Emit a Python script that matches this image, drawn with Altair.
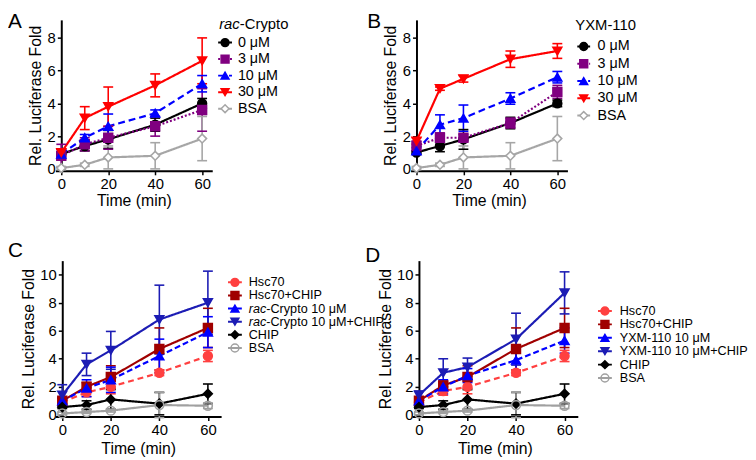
import altair as alt
import pandas as pd

FONT = "Arial"
TIMES = [0, 10, 20, 40, 60]
X_TICKS = [0, 20, 40, 60]

# ---------------- Panel A : rac-Crypto ----------------
A_SERIES = ["0 μM", "3 μM", "10 μM", "30 μM", "BSA"]
A_0 = [0.9, 1.4, 1.8, 2.7, 4.0]
A_0_ERR = [0.15, 0.3, 0.55, 0.4, 0.3]
A_3 = [0.8, 1.5, 1.9, 2.6, 3.6]
A_3_ERR = [0.7, 0.4, 0.7, 0.6, 1.3]
A_10 = [0.9, 1.9, 2.6, 3.4, 5.2]
A_10_ERR = [0.3, 0.2, 0.75, 0.2, 0.5]
A_30 = [1.0, 3.1, 3.8, 5.1, 6.6]
A_30_ERR = [0.2, 0.7, 1.2, 0.7, 1.4]
A_BSA = [0.05, 0.25, 0.7, 0.8, 1.85]
A_BSA_ERR = [0.1, 0.1, 0.7, 0.8, 1.35]

# ---------------- Panel B : YXM-110 ----------------
B_SERIES = ["0 μM", "3 μM", "10 μM", "30 μM", "BSA"]
B_0 = [1.0, 1.4, 1.8, 2.8, 4.0]
B_0_ERR = [0.1, 0.35, 0.6, 0.35, 0.2]
B_3 = [1.4, 1.9, 1.9, 2.8, 4.7]
B_3_ERR = [0.3, 0.3, 0.2, 0.3, 0.4]
B_10 = [1.1, 2.7, 3.1, 4.3, 5.6]
B_10_ERR = [0.2, 0.6, 0.8, 0.35, 0.35]
B_30 = [1.7, 4.9, 5.5, 6.7, 7.2]
B_30_ERR = [0.2, 0.1, 0.2, 0.5, 0.45]
B_BSA = [0.05, 0.25, 0.7, 0.8, 1.85]
B_BSA_ERR = [0.1, 0.1, 0.7, 0.8, 1.35]

# ---------------- Panel C : rac-Crypto + CHIP ----------------
C_SERIES = ["Hsc70", "Hsc70+CHIP", "rac-Crypto 10 μM", "rac-Crypto 10 μM+CHIP", "CHIP", "BSA"]
C_PRE = ["", "", "rac", "rac", "", ""]
C_REST = ["Hsc70", "Hsc70+CHIP", "-Crypto 10 μM", "-Crypto 10 μM+CHIP", "CHIP", "BSA"]
C_H = [0.9, 1.6, 2.0, 3.0, 4.2]
C_H_ERR = [0.1, 0.3, 0.5, 0.2, 0.4]
C_HC = [1.0, 2.0, 2.7, 4.7, 6.2]
C_HC_ERR = [0.2, 0.3, 0.8, 1.5, 1.4]
C_R = [1.0, 1.9, 2.5, 4.2, 5.9]
C_R_ERR = [0.2, 0.6, 0.9, 1.2, 1.1]
C_RC = [1.4, 3.6, 4.6, 6.8, 8.0]
C_RC_ERR = [0.75, 0.8, 1.35, 2.45, 2.25]
C_CHIP = [0.55, 0.7, 1.1, 0.8, 1.5]
C_CHIP_ERR = [0.1, 0.3, 0.7, 0.8, 0.7]
C_BSA = [0.1, 0.2, 0.3, 0.7, 0.65]
C_BSA_ERR = [0.1, 0.1, 0.1, 0.9, 0.2]

# ---------------- Panel D : YXM-110 + CHIP ----------------
D_SERIES = ["Hsc70", "Hsc70+CHIP", "YXM-110 10 μM", "YXM-110 10 μM+CHIP", "CHIP", "BSA"]
D_PRE = ["", "", "", "", "", ""]
D_REST = D_SERIES
D_H = [0.9, 1.7, 2.0, 3.0, 4.2]
D_H_ERR = [0.1, 0.3, 0.5, 0.2, 0.4]
D_HC = [1.0, 2.1, 2.7, 4.7, 6.2]
D_HC_ERR = [0.2, 0.3, 0.8, 1.5, 1.4]
D_Y = [1.0, 2.0, 2.8, 3.9, 5.3]
D_Y_ERR = [0.2, 0.5, 0.5, 0.9, 0.9]
D_YC = [1.4, 3.0, 3.4, 5.4, 8.7]
D_YC_ERR = [0.3, 1.0, 0.65, 1.85, 1.5]
D_CHIP = [0.55, 0.7, 1.1, 0.8, 1.5]
D_CHIP_ERR = [0.1, 0.3, 0.7, 0.8, 0.7]
D_BSA = [0.1, 0.2, 0.3, 0.7, 0.65]
D_BSA_ERR = [0.1, 0.1, 0.1, 0.9, 0.2]

# ---------------- styles ----------------
AB_COLORS = ["#000000", "#800080", "#0000ff", "#ff0000", "#a6a6a6"]
AB_FILLS = ["#000000", "#800080", "#0000ff", "#ff0000", "#ffffff"]
AB_SHAPES = ["circle", "square", "triangle-up", "triangle-down", "diamond"]
AB_DASHES = [[1, 0], [2, 2], [7, 4], [1, 0], [1, 0]]

CD_COLORS = ["#ff4040", "#a00000", "#0000ff", "#1c1cb4", "#000000", "#a0a0a0"]
CD_FILLS = ["#ff4040", "#a00000", "#0000ff", "#1c1cb4", "#000000", "transparent"]
CD_SHAPES = ["circle", "square", "triangle-up", "triangle-down", "diamond", "circle"]
CD_DASHES = [[6, 4], [1, 0], [6, 3], [1, 0], [1, 0], [1, 0]]


def panel(series, means, errs, colors, fills, shapes, dashes, geo, leg, pre, rest,
          title_parts, letter):
    rows = []
    for s, m, e in zip(series, means, errs):
        for t, v, d in zip(TIMES, m, e):
            rows.append(dict(series=s, t=t, v=v, lo=v - d, hi=v + d))
    df = pd.DataFrame(rows)

    sc_col = alt.Scale(domain=series, range=colors)
    sc_fill = alt.Scale(domain=series, range=fills)
    sc_shape = alt.Scale(domain=series, range=shapes)
    sc_dash = alt.Scale(domain=series, range=dashes)

    xsc = alt.Scale(domain=geo["xdom"], nice=False, zero=False)
    ysc = alt.Scale(domain=geo["ydom"], nice=False, zero=False)
    xax = alt.Axis(values=X_TICKS, title="Time (min)", titlePadding=geo["xtp"],
                   labelPadding=2, labelFlush=False)
    yax = alt.Axis(values=geo["yticks"], title="Rel. Luciferase Fold", offset=geo["yoff"],
                   titlePadding=geo["ytp"], labelPadding=2, labelFlush=False)

    x = alt.X("t:Q", scale=xsc, axis=xax)
    col = alt.Color("series:N", scale=sc_col, legend=None)
    stk = alt.Stroke("series:N", scale=sc_col, legend=None)
    fil = alt.Fill("series:N", scale=sc_fill, legend=None)
    shp = alt.Shape("series:N", scale=sc_shape, legend=None)
    dsh = alt.StrokeDash("series:N", scale=sc_dash, legend=None)

    base = alt.Chart(df)
    lines = base.mark_line(strokeWidth=2.2).encode(
        x=x, y=alt.Y("v:Q", scale=ysc, axis=yax), color=col, strokeDash=dsh)
    bars = base.mark_rule(strokeWidth=1.6).encode(
        x=x, y=alt.Y("lo:Q", scale=ysc, axis=yax), y2="hi:Q", color=col)
    cap_lo = base.mark_tick(orient="horizontal", size=10, thickness=1.6, opacity=1).encode(
        x=x, y=alt.Y("lo:Q", scale=ysc, axis=yax), color=col)
    cap_hi = base.mark_tick(orient="horizontal", size=10, thickness=1.6, opacity=1).encode(
        x=x, y=alt.Y("hi:Q", scale=ysc, axis=yax), color=col)
    pts = base.mark_point(size=80, strokeWidth=1.6, opacity=1).encode(
        x=x, y=alt.Y("v:Q", scale=ysc, axis=yax), shape=shp, stroke=stk, fill=fil)
    main = alt.layer(lines, bars, cap_lo, cap_hi, pts)

    ldf = pd.DataFrame({"series": series, "pre": pre, "rest": rest})
    ly = alt.Y("series:N", sort=series,
               scale=alt.Scale(type="point", domain=series, range=leg["yr"], padding=0),
               axis=None)
    lb = alt.Chart(ldf)
    fs = leg["fs"]
    lseg = lb.mark_rule(strokeWidth=2).encode(
        x=alt.value(leg["seg"][0]), x2=alt.value(leg["seg"][1]), y=ly, color=col, strokeDash=dsh)
    lpt = lb.mark_point(size=64, strokeWidth=1.5, opacity=1).encode(
        x=alt.value(leg["sym"]), y=ly, shape=shp, stroke=stk, fill=fil)
    t_plain = lb.transform_filter(alt.datum.pre == "").mark_text(
        align="left", baseline="middle", font=FONT, fontSize=fs, color="#000").encode(
        x=alt.value(leg["txt"]), y=ly, text="rest:N")
    t_pre = lb.transform_filter(alt.datum.pre != "").mark_text(
        align="left", baseline="middle", font=FONT, fontSize=fs, fontStyle="italic",
        color="#000").encode(x=alt.value(leg["txt"]), y=ly, text="pre:N")
    t_rest = lb.transform_filter(alt.datum.pre != "").mark_text(
        align="left", baseline="middle", font=FONT, fontSize=fs, color="#000").encode(
        x=alt.value(leg["txt"] + leg["prew"]), y=ly, text="rest:N")
    legend_layers = [lseg, lpt, t_plain, t_pre, t_rest]

    tx = leg.get("tx")
    for txt, italic in title_parts:
        legend_layers.append(
            alt.Chart(pd.DataFrame({"s": [txt]})).mark_text(
                align="left", baseline="middle", font=FONT, fontSize=15,
                fontStyle="italic" if italic else "normal", color="#000").encode(
                x=alt.value(tx), y=alt.value(leg["ty"]), text="s:N"))
        tx += leg["tprew"]

    legend_layers.append(
        alt.Chart(pd.DataFrame({"s": [letter]})).mark_text(
            align="left", baseline="top", font=FONT, fontSize=21, color="#000").encode(
            x=alt.value(leg["letter"][0]), y=alt.value(leg["letter"][1]), text="s:N"))

    legend = alt.layer(*legend_layers)
    return alt.layer(main, legend).resolve_scale(y="independent").properties(
        width=geo["w"], height=geo["h"])


GEO_AB = dict(w=159, h=153, xdom=[-2.52, 64.3], ydom=[-0.12, 9.1], yticks=[0, 2, 4, 6, 8],
              yoff=-6, xtp=1, ytp=4)
GEO_CD = dict(w=168, h=158, xdom=[-2.85, 65.45], ydom=[-0.12, 11], yticks=[0, 2, 4, 6, 8, 10],
              yoff=-7, xtp=3, ytp=3)

pA = panel(A_SERIES, [A_0, A_3, A_10, A_30, A_BSA],
           [A_0_ERR, A_3_ERR, A_10_ERR, A_30_ERR, A_BSA_ERR],
           AB_COLORS, AB_FILLS, AB_SHAPES, AB_DASHES, GEO_AB,
           dict(yr=[23, 90], seg=[165, 179], sym=172, txt=185, fs=14.5, prew=0,
                tx=166, ty=4, tprew=21, letter=[-48, -9]),
           ["", "", "", "", ""], A_SERIES, [("rac", True), ("-Crypto", False)], "A")

pB = panel(B_SERIES, [B_0, B_3, B_10, B_30, B_BSA],
           [B_0_ERR, B_3_ERR, B_10_ERR, B_30_ERR, B_BSA_ERR],
           AB_COLORS, AB_FILLS, AB_SHAPES, AB_DASHES, GEO_AB,
           dict(yr=[27, 97], seg=[169, 182], sym=175.5, txt=189.5, fs=14.5, prew=0,
                tx=167, ty=5.5, tprew=0, letter=[-44, -9]),
           ["", "", "", "", ""], B_SERIES, [("YXM-110", False)], "B")

pC = panel(C_SERIES, [C_H, C_HC, C_R, C_RC, C_CHIP, C_BSA],
           [C_H_ERR, C_HC_ERR, C_R_ERR, C_RC_ERR, C_CHIP_ERR, C_BSA_ERR],
           CD_COLORS, CD_FILLS, CD_SHAPES, CD_DASHES, GEO_CD,
           dict(yr=[22, 88.5], seg=[175, 189], sym=182, txt=196, fs=12.8, prew=17.8,
                tx=0, ty=0, tprew=0, letter=[-48, -21]),
           C_PRE, C_REST, [], "C")

pD = panel(D_SERIES, [D_H, D_HC, D_Y, D_YC, D_CHIP, D_BSA],
           [D_H_ERR, D_HC_ERR, D_Y_ERR, D_YC_ERR, D_CHIP_ERR, D_BSA_ERR],
           CD_COLORS, CD_FILLS, CD_SHAPES, CD_DASHES, GEO_CD,
           dict(yr=[51, 119], seg=[188.5, 202.5], sym=195.5, txt=210.5, fs=12.8, prew=0,
                tx=0, ty=0, tprew=0, letter=[-47.5, -16]),
           D_PRE, D_REST, [], "D")

RES = dict(color="independent", stroke="independent", fill="independent",
           shape="independent", strokeDash="independent")

row1 = alt.hconcat(pA, pB, spacing=201, bounds="flush").resolve_scale(**RES)
row2 = alt.hconcat(pC, pD, spacing=193.5, bounds="flush").resolve_scale(**RES)

# with flush bounds a nested row counts as zero height, so the spacing holds row 1's height too
chart = alt.vconcat(row1, row2, spacing=244, bounds="flush").resolve_scale(**RES).properties(
    padding=0
).configure_view(stroke=None).configure_axis(
    labelFont=FONT, labelFontSize=15, labelColor="#000",
    titleFont=FONT, titleFontSize=16, titleFontWeight="normal", titleColor="#000",
    domainColor="#000", domainWidth=2, tickColor="#000", tickWidth=1.5, tickSize=4,
    grid=False
)

chart.save("out.html", embed_options={"renderer": "svg", "actions": False})
